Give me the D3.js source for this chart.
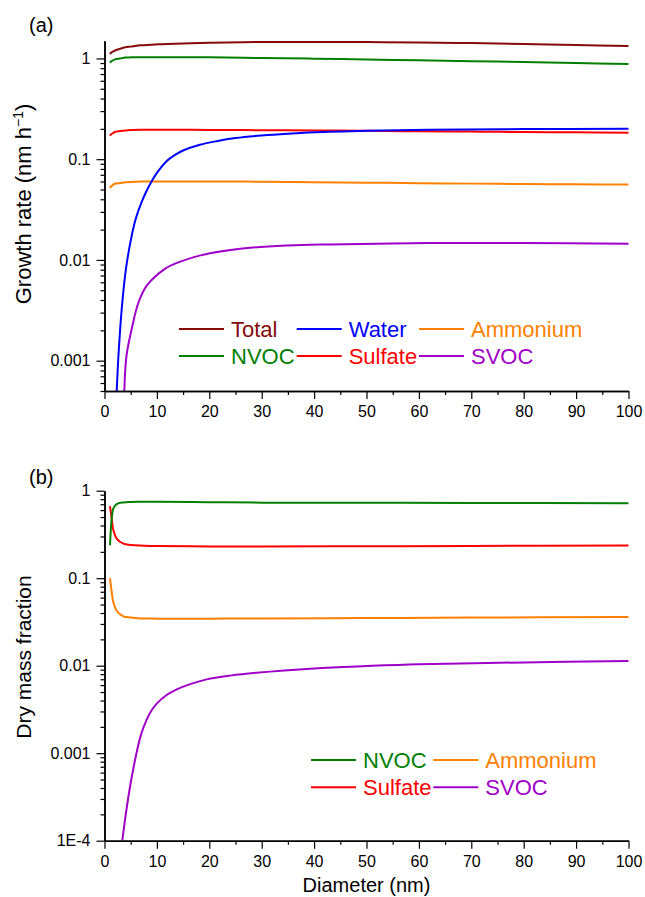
<!DOCTYPE html>
<html>
<head>
<meta charset="utf-8">
<script src="https://cdn.jsdelivr.net/npm/d3@7/dist/d3.min.js"></script>
<style>
  body { margin: 0; background: #fff; }
  text { font-family: "Liberation Sans", Arial, sans-serif; }
</style>
</head>
<body>
<script>
// ---- data ----
// panel (a): growth rate (nm/h) vs diameter (nm)
var diamA = [1, 1.5, 2, 3, 4, 5, 7, 10, 15, 20, 30, 40, 50, 60, 70, 80, 90, 100];
var totalA = [1.11, 1.16, 1.2, 1.25, 1.29, 1.31, 1.35, 1.38, 1.41, 1.43, 1.455, 1.46, 1.455, 1.44, 1.42, 1.39, 1.36, 1.33];
var nvocA = [0.91, 0.95, 0.98, 1.0, 1.02, 1.025, 1.03, 1.03, 1.03, 1.025, 1.01, 0.995, 0.975, 0.96, 0.94, 0.92, 0.9, 0.88];
var sulfateA = [0.172, 0.18, 0.186, 0.19, 0.193, 0.195, 0.196, 0.196, 0.196, 0.195, 0.194, 0.193, 0.191, 0.189, 0.188, 0.186, 0.185, 0.183];
var ammoniumA = [0.052, 0.055, 0.057, 0.058, 0.059, 0.0595, 0.06, 0.06, 0.06, 0.06, 0.0598, 0.059, 0.0585, 0.0578, 0.0572, 0.0567, 0.0563, 0.056];
var waterDiam = [2.33, 2.65, 3.0, 3.4, 4.1, 5.2, 6.0, 7.1, 8.0, 8.9, 10, 11.9, 13.8, 15, 18.2, 21.4, 25, 30, 35, 43, 50, 62, 80, 100];
var waterA = [0.0005, 0.0011, 0.0021, 0.0038, 0.0082, 0.0175, 0.026, 0.0376, 0.048, 0.059, 0.073, 0.096, 0.113, 0.122, 0.139, 0.151, 0.162, 0.172, 0.179, 0.187, 0.191, 0.196, 0.199, 0.2];
var svocDiamA = [3.78, 4.2, 5.2, 6.5, 8.1, 11.6, 14.2, 18.3, 25.9, 35, 43, 62, 80, 100];
var svocA = [0.0005, 0.00112, 0.00207, 0.0038, 0.00558, 0.0082, 0.0095, 0.0111, 0.0129, 0.0139, 0.01426, 0.0147, 0.0147, 0.0145];

// panel (b): dry mass fraction vs diameter (nm)
var diamB = [1.05, 1.37, 1.69, 2.32, 3.6, 5, 6.8, 10, 20, 30, 50, 70, 100];
var nvocB = [0.238, 0.48, 0.627, 0.703, 0.735, 0.745, 0.748, 0.748, 0.74, 0.73, 0.727, 0.724, 0.72];
var sulfateB = [0.667, 0.48, 0.353, 0.284, 0.248, 0.24, 0.236, 0.233, 0.231, 0.231, 0.232, 0.234, 0.237];
var ammoniumB = [0.1, 0.07, 0.053, 0.0425, 0.0366, 0.0355, 0.0347, 0.0345, 0.0345, 0.0347, 0.035, 0.0355, 0.036];
var svocDiamB = [3.4, 3.9, 4.87, 6.1, 7.0, 8.05, 9.0, 10.1, 11.8, 13.8, 16.5, 19.5, 24, 29, 40, 50, 60, 80, 100];
var svocB = [1e-4, 1.71e-4, 4.14e-4, 0.001, 0.00165, 0.00242, 0.0031, 0.00376, 0.0046, 0.00536, 0.0062, 0.00698, 0.0077, 0.0083, 0.0093, 0.0099, 0.0104, 0.0109, 0.0113];

var xTicks = [0, 10, 20, 30, 40, 50, 60, 70, 80, 90, 100];
var yTicksA = [0.001, 0.01, 0.1, 1];
var yLabelsA = ['0.001', '0.01', '0.1', '1'];
var yTicksB = [1e-4, 0.001, 0.01, 0.1, 1];
var yLabelsB = ['1E-4', '0.001', '0.01', '0.1', '1'];

var colors = {
    Total: '#860a0a', Water: '#0000ff', Ammonium: '#ff8000',
    NVOC: '#008000', Sulfate: '#ff0000', SVOC: '#a000c8'
};

(function() {
    var svg = d3.select('body').append('svg')
        .attr('width', 645)
        .attr('height', 897);

    function zip(xs, ys) {
        return xs.map(function(d, i) { return [d, ys[i]]; });
    }

    function minorTicks(domain) {
        var out = [];
        var lo = Math.floor(Math.log10(domain[0])), hi = Math.ceil(Math.log10(domain[1]));
        for (var e = lo; e <= hi; e++) {
            for (var k = 2; k <= 9; k++) {
                var v = k * Math.pow(10, e);
                if (v >= domain[0] * 0.999 && v <= domain[1] * 1.001) out.push(v);
            }
        }
        return out;
    }

    var drawPanel = function(opt) {
        var x = d3.scaleLinear().domain([0, 100]).range([104.5, 628.5]);
        var y = d3.scaleLog().domain(opt.yDomain).range([opt.bottom, opt.top]);
        var g = svg.append('g');

        g.append('clipPath').attr('id', 'clip' + opt.id)
            .append('rect')
            .attr('x', x(0)).attr('y', opt.top - 2)
            .attr('width', x(100) - x(0) + 2).attr('height', opt.bottom - opt.top + 2);

        var line = d3.line()
            .x(function(d) { return x(d[0]); })
            .y(function(d) { return y(d[1]); })
            .curve(d3.curveCatmullRom.alpha(0.5));

        g.append('g').attr('clip-path', 'url(#clip' + opt.id + ')')
            .selectAll('path')
            .data(opt.series)
            .enter()
                .append('path')
                .attr('d', function(s) { return line(s.points); })
                .attr('fill', 'none')
                .attr('stroke', function(s) { return colors[s.name]; })
                .attr('stroke-width', 2);

        // x axis
        var xMinor = d3.range(5, 100, 10);
        g.append('g').attr('transform', 'translate(0,' + opt.bottom + ')')
            .call(d3.axisBottom(x).tickValues(xMinor).tickSize(4).tickSizeOuter(0).tickFormat(''));
        g.append('g').attr('transform', 'translate(0,' + opt.bottom + ')')
            .call(d3.axisBottom(x).tickValues(xTicks).tickSize(8).tickSizeOuter(0).tickPadding(7))
            .selectAll('text').attr('font-size', 16).attr('font-family', null);

        // y axis
        g.append('g').attr('transform', 'translate(' + x(0) + ',0)')
            .call(d3.axisLeft(y).tickValues(minorTicks(opt.yDomain)).tickSize(4).tickSizeOuter(0).tickFormat(''));
        g.append('g').attr('transform', 'translate(' + x(0) + ',0)')
            .call(d3.axisLeft(y).tickValues(opt.yTicks).tickSize(8).tickSizeOuter(0).tickPadding(6)
                .tickFormat(function(d, i) { return opt.yLabels[i]; }))
            .selectAll('text').attr('font-size', 16).attr('font-family', null);

        g.selectAll('.domain').attr('stroke-width', 1.5);
        g.selectAll('.tick line').attr('stroke-width', 1.2);

        // legend
        opt.legend.forEach(function(name, i) {
            var col = i % opt.legendCols.length, row = Math.floor(i / opt.legendCols.length);
            var lx = opt.legendCols[col], ly = opt.legendRows[row];
            g.append('line')
                .attr('x1', lx).attr('x2', lx + 45)
                .attr('y1', ly).attr('y2', ly)
                .attr('stroke', colors[name]).attr('stroke-width', 2);
            g.append('text')
                .attr('x', lx + 52).attr('y', ly + 7.5)
                .attr('font-size', 22)
                .attr('fill', colors[name])
                .text(name);
        });

        svg.append('text')
            .attr('x', 29).attr('y', opt.tagY)
            .attr('font-size', 20)
            .text(opt.tag);
    };

    drawPanel({
        id: 'a', tag: '(a)', tagY: 32,
        top: 40.7, bottom: 391, yDomain: [0.0005, 1.5],
        yTicks: yTicksA, yLabels: yLabelsA,
        series: [
            { name: 'SVOC', points: zip(svocDiamA, svocA) },
            { name: 'Ammonium', points: zip(diamA, ammoniumA) },
            { name: 'Sulfate', points: zip(diamA, sulfateA) },
            { name: 'Water', points: zip(waterDiam, waterA) },
            { name: 'NVOC', points: zip(diamA, nvocA) },
            { name: 'Total', points: zip(diamA, totalA) }
        ],
        legend: ['Total', 'Water', 'Ammonium', 'NVOC', 'Sulfate', 'SVOC'],
        legendCols: [179, 296.7, 419], legendRows: [329, 356]
    });

    drawPanel({
        id: 'b', tag: '(b)', tagY: 483.5,
        top: 490.7, bottom: 840.7, yDomain: [1e-4, 1],
        yTicks: yTicksB, yLabels: yLabelsB,
        series: [
            { name: 'SVOC', points: zip(svocDiamB, svocB) },
            { name: 'Ammonium', points: zip(diamB, ammoniumB) },
            { name: 'Sulfate', points: zip(diamB, sulfateB) },
            { name: 'NVOC', points: zip(diamB, nvocB) }
        ],
        legend: ['NVOC', 'Ammonium', 'Sulfate', 'SVOC'],
        legendCols: [311, 433.3], legendRows: [760, 787.3]
    });

    // axis titles
    var ta = svg.append('text')
        .attr('transform', 'translate(31,204) rotate(-90)')
        .attr('text-anchor', 'middle')
        .attr('font-size', 22);
    ta.append('tspan').text('Growth rate (nm h');
    ta.append('tspan').attr('font-size', 14).attr('dy', -8).text('\u22121');
    ta.append('tspan').attr('dy', 8).text(')');

    svg.append('text')
        .attr('transform', 'translate(31,657) rotate(-90)')
        .attr('text-anchor', 'middle')
        .attr('font-size', 21)
        .text('Dry mass fraction');

    svg.append('text')
        .attr('x', 366.5).attr('y', 892)
        .attr('text-anchor', 'middle')
        .attr('font-size', 20)
        .text('Diameter (nm)');
}());
</script>
</body>
</html>
